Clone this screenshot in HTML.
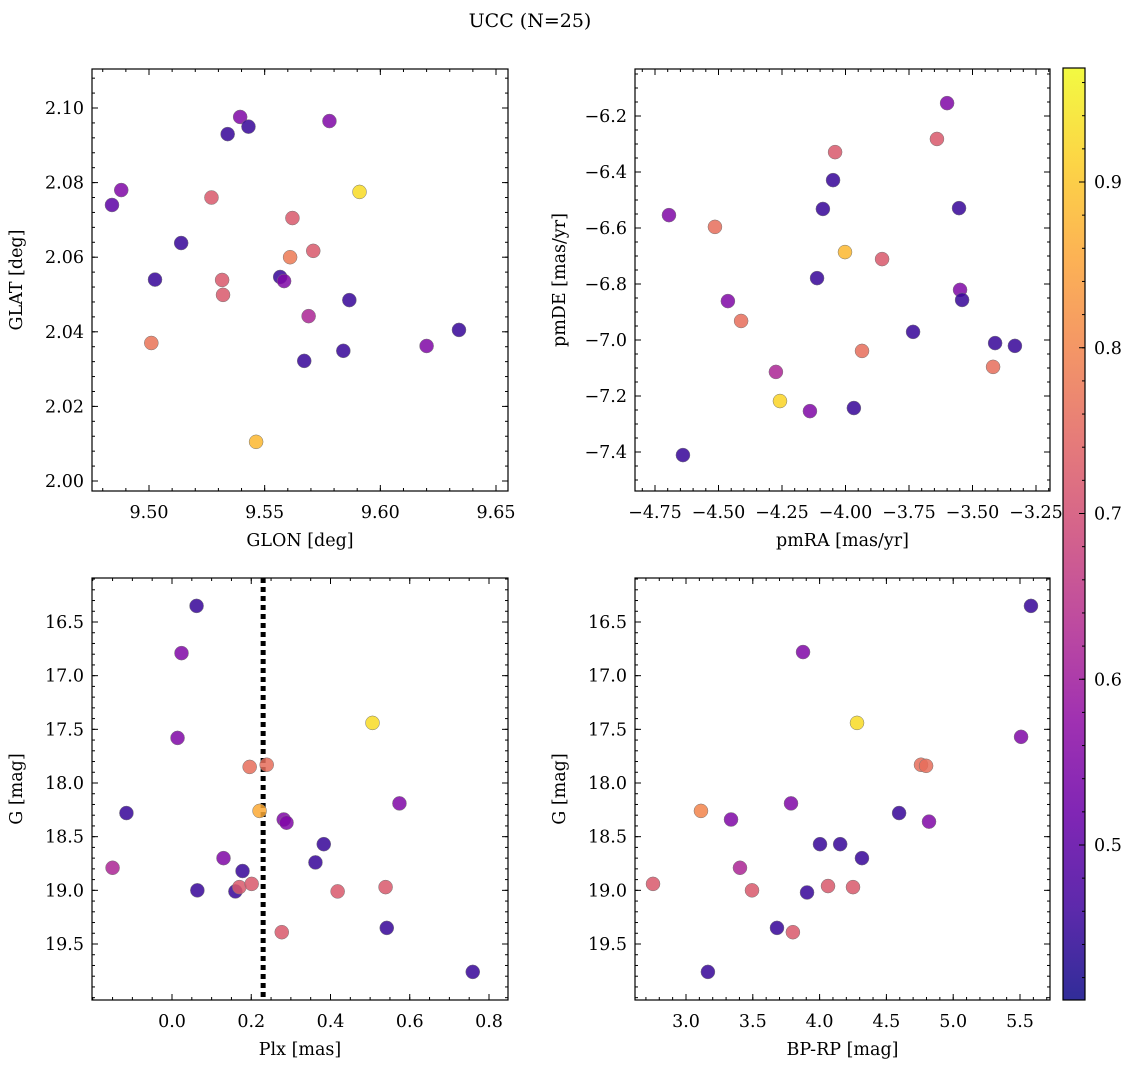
<!DOCTYPE html>
<html><head><meta charset="utf-8"><style>
html,body{margin:0;padding:0;background:#fff;overflow:hidden;width:1136px;height:1068px;}
svg{display:block;font-family:"DejaVu Serif","Liberation Serif",serif;}
</style></head><body>
<svg id="c" width="1136" height="1068" viewBox="0 0 1136 1068" xmlns="http://www.w3.org/2000/svg">
<defs><linearGradient id="cmap" x1="0" y1="1" x2="0" y2="0">
<stop offset="0" stop-color="#0d0887"/><stop offset="0.1" stop-color="#41049d"/><stop offset="0.2" stop-color="#6a00a8"/><stop offset="0.3" stop-color="#8f0da4"/><stop offset="0.4" stop-color="#b12a90"/><stop offset="0.5" stop-color="#cc4778"/><stop offset="0.6" stop-color="#e16462"/><stop offset="0.7" stop-color="#f2844b"/><stop offset="0.8" stop-color="#fca636"/><stop offset="0.9" stop-color="#fcce25"/><stop offset="1" stop-color="#f0f921"/>
</linearGradient></defs>
<text x="530" y="27" font-size="19" text-anchor="middle">UCC (N=25)</text>
</svg>
<script>
// ---- data ----
const glon=[9.5394,9.534,9.543,9.578,9.484,9.488,9.527,9.591,9.5139,9.562,9.561,9.571,9.5026,9.5316,9.5567,9.5584,9.532,9.569,9.5866,9.501,9.5671,9.584,9.620,9.634,9.5463];
const glat=[2.0976,2.093,2.095,2.0965,2.074,2.078,2.076,2.0775,2.0638,2.0705,2.060,2.0617,2.054,2.0539,2.0547,2.0536,2.0499,2.0442,2.0485,2.037,2.0322,2.0349,2.0362,2.0405,2.0105];
const p1=[0.55,0.45,0.45,0.55,0.5,0.55,0.72,0.93,0.45,0.72,0.78,0.72,0.45,0.72,0.45,0.55,0.72,0.62,0.45,0.77,0.45,0.45,0.55,0.45,0.88];
const pmra=[-4.695,-4.514,-4.041,-4.049,-4.089,-3.600,-3.640,-3.553,-4.112,-4.002,-3.856,-4.463,-4.411,-3.549,-3.541,-3.734,-3.411,-3.333,-3.419,-3.935,-4.274,-4.258,-4.140,-3.967,-4.640];
const pmde=[-6.554,-6.596,-6.329,-6.429,-6.532,-6.154,-6.282,-6.529,-6.779,-6.686,-6.711,-6.861,-6.932,-6.821,-6.857,-6.971,-7.011,-7.021,-7.096,-7.039,-7.114,-7.218,-7.254,-7.243,-7.411];
const p2=[0.55,0.76,0.72,0.45,0.45,0.55,0.72,0.45,0.45,0.88,0.72,0.55,0.76,0.55,0.45,0.45,0.45,0.45,0.76,0.76,0.62,0.92,0.55,0.45,0.45];
const plx=[0.062,0.024,0.014,0.506,0.196,0.239,-0.115,0.221,0.282,0.289,0.574,-0.150,0.130,0.178,0.383,0.362,0.064,0.160,0.170,0.201,0.418,0.539,0.277,0.542,0.759];
const g3=[16.35,16.79,17.58,17.44,17.85,17.83,18.28,18.26,18.34,18.37,18.19,18.79,18.70,18.82,18.57,18.74,19.00,19.01,18.97,18.94,19.01,18.97,19.39,19.35,19.76];
const p3=[0.45,0.55,0.55,0.93,0.76,0.76,0.45,0.86,0.55,0.55,0.55,0.62,0.55,0.45,0.45,0.45,0.45,0.45,0.72,0.72,0.72,0.72,0.72,0.45,0.45];
const bprp=[5.582,3.876,4.280,5.508,4.759,4.797,3.112,3.337,3.786,4.595,4.819,4.003,4.154,4.317,3.404,2.753,3.494,4.063,4.250,3.906,3.681,3.800,3.164];
const g4=[16.35,16.78,17.44,17.57,17.83,17.84,18.26,18.34,18.19,18.28,18.36,18.57,18.57,18.70,18.79,18.94,19.00,18.96,18.97,19.02,19.35,19.39,19.76];
const p4=[0.45,0.55,0.93,0.55,0.76,0.76,0.8,0.55,0.55,0.45,0.55,0.45,0.45,0.45,0.62,0.72,0.72,0.72,0.72,0.45,0.45,0.72,0.45];
const plxLine=[0.23];
const cbTicks=[0.5,0.6,0.7,0.8,0.9];
// ---- helpers ----
const NS="http://www.w3.org/2000/svg",svg=document.getElementById('c');
function mk(t,a){const e=document.createElementNS(NS,t);for(const k in a)e.setAttribute(k,a[k]);svg.appendChild(e);return e;}
function lin(v0,p0,v1,p1){return v=>p0+(v-v0)*(p1-p0)/(v1-v0);}
const stops=[[13,8,135],[65,4,157],[106,0,168],[143,13,164],[177,42,144],[204,71,120],[225,100,98],[242,132,75],[252,166,54],[252,206,37],[240,249,33]];
const vmin=0.406,vmax=0.969;
function cmap(p){let t=Math.max(0,Math.min(1,(p-vmin)/(vmax-vmin)))*10;const i=Math.min(9,Math.floor(t)),f=t-i;const a=stops[i],b=stops[i+1];return 'rgb('+a.map((c,k)=>Math.round(c+(b[k]-c)*f)).join(',')+')';}
function fmt(v,d){return v.toFixed(d).replace('-','\u2212');}
const FS=17.5;
function axes(name,L,R,T,B,sx,sy,xt,xd,xm,yt,yd,ym,xlab,ylab){
  const f=mk('rect',{x:L,y:T,width:R-L,height:B-T,fill:'none',stroke:'#000','stroke-width':1.2});
  
  const ticks=(vals,len,isX)=>vals.forEach(v=>{
    if(isX){const x=sx(v);if(x<L||x>R)return;mk('line',{x1:x,y1:B,x2:x,y2:B-len,stroke:'#000'});mk('line',{x1:x,y1:T,x2:x,y2:T+len,stroke:'#000'});}
    else{const y=sy(v);if(y<T||y>B)return;mk('line',{x1:L,y1:y,x2:L+len,y2:y,stroke:'#000'});mk('line',{x1:R,y1:y,x2:R-len,y2:y,stroke:'#000'});}
  });
  const minors=(s,e,st)=>{const a=[];const n=Math.round((e-s)/st);for(let i=0;i<=n;i++)a.push(s+i*st);return a;};
  ticks(minors(xm[0],xm[1],xm[2]),3,true);ticks(minors(ym[0],ym[1],ym[2]),3,false);
  ticks(xt,6,true);ticks(yt,6,false);
  xt.forEach(v=>{const t=mk('text',{x:sx(v),y:B+27,'font-size':FS,'text-anchor':'middle'});t.textContent=fmt(v,xd);
    });
  yt.forEach(v=>{const t=mk('text',{x:L-8,y:sy(v)+6,'font-size':FS,'text-anchor':'end'});t.textContent=fmt(v,yd);
    });
  const xl=mk('text',{x:(L+R)/2,y:B+55,'font-size':FS,'text-anchor':'middle'});xl.textContent=xlab;
  
  const yx=L-70,yy=(T+B)/2;
  const yl=mk('text',{x:yx,y:yy,'font-size':FS,'text-anchor':'middle',transform:'rotate(-90 '+yx+' '+yy+')'});yl.textContent=ylab;
  
}
function scatter(name,xs,ys,ps,sx,sy){xs.forEach((v,i)=>{const c=mk('circle',{cx:sx(v),cy:sy(ys[i]),r:7,fill:cmap(ps[i]),'fill-opacity':0.85,stroke:'#777','stroke-width':0.5});
  });}
// panel 1
let sx=lin(9.50,149,9.65,496),sy=lin(2.10,108,2.00,481);
scatter('glon-glat',glon,glat,p1,sx,sy);
axes('glon-glat',92,508,69,491,sx,sy,[9.50,9.55,9.60,9.65],2,[9.48,9.66,0.01],[2.10,2.08,2.06,2.04,2.02,2.00],2,[1.996,2.112,0.004],'GLON [deg]','GLAT [deg]');
// panel 2
sx=lin(-4.75,655,-3.25,1036);sy=lin(-6.2,116,-7.4,452);
scatter('pm',pmra,pmde,p2,sx,sy);
axes('pm',635,1050,69,491,sx,sy,[-4.75,-4.5,-4.25,-4.0,-3.75,-3.5,-3.25],2,[-4.85,-3.2,0.05],[-6.2,-6.4,-6.6,-6.8,-7.0,-7.2,-7.4],1,[-7.55,-6.0,0.05],'pmRA [mas/yr]','pmDE [mas/yr]');
// panel 3
sx=lin(0,172,0.8,489);sy=lin(16.5,622,19.5,944);
plxLine.forEach(v=>{const l=mk('line',{x1:sx(v),y1:578,x2:sx(v),y2:1000,stroke:'#000','stroke-width':5,'stroke-dasharray':'5 4'});
  });
scatter('plx-g',plx,g3,p3,sx,sy);
axes('plx-g',92,508,578,1000,sx,sy,[0.0,0.2,0.4,0.6,0.8],1,[-0.2,0.9,0.05],[16.5,17.0,17.5,18.0,18.5,19.0,19.5],1,[16.0,20.0,0.1],'Plx [mas]','G [mag]');
// panel 4
sx=lin(3.0,686,5.5,1020);
scatter('cmd',bprp,g4,p4,sx,sy);
axes('cmd',635,1050,578,1000,sx,sy,[3.0,3.5,4.0,4.5,5.0,5.5],1,[2.6,5.8,0.1],[16.5,17.0,17.5,18.0,18.5,19.0,19.5],1,[16.0,20.0,0.1],'BP-RP [mag]','G [mag]');
// colorbar
const cy=lin(0.9,182,0.5,845);
const cb=mk('rect',{x:1063,y:68,width:22,height:932,fill:'url(#cmap)','fill-opacity':0.85,stroke:'#000','stroke-width':1.2});

for(let i=0;i<28;i++){const v=0.42+i*0.02;mk('line',{x1:1085,y1:cy(v),x2:1082,y2:cy(v),stroke:'#000'});}
cbTicks.forEach(v=>{mk('line',{x1:1085,y1:cy(v),x2:1079,y2:cy(v),stroke:'#000'});
  const t=mk('text',{x:1094,y:cy(v)+6,'font-size':FS});t.textContent=v.toFixed(1);
  });
</script>
</body></html>
